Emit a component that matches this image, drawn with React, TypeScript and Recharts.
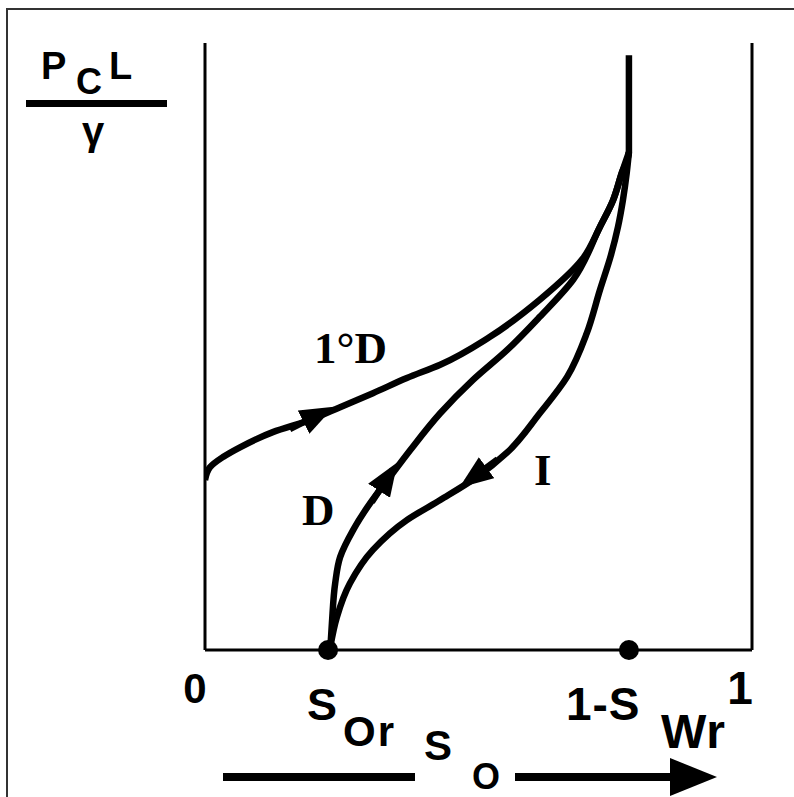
import { LineChart, Line, XAxis, YAxis, ReferenceLine, ReferenceDot } from 'recharts';

// residual saturations (fraction of pore volume)
const sOr = 0.225;
const sWr = 0.225;

// primary drainage 1°D : oil saturation vs dimensionless capillary pressure
const primaryDrainage = [
  { s: 0, p: 28 },
  { s: 0.009, p: 30.1 },
  { s: 0.033, p: 31.8 },
  { s: 0.064, p: 33.4 },
  { s: 0.124, p: 35.9 },
  { s: 0.192, p: 37.9 },
  { s: 0.247, p: 40.0 },
  { s: 0.307, p: 42.3 },
  { s: 0.369, p: 44.8 },
  { s: 0.43, p: 47.0 },
  { s: 0.521, p: 51.6 },
  { s: 0.612, p: 57.7 },
  { s: 0.69, p: 64.4 },
  { s: 0.722, p: 69.7 },
  { s: 0.746, p: 74.1 },
  { s: 0.762, p: 78.6 },
  { s: 0.775, p: 82.0 },
  { s: 0.775, p: 98.0 },
];

// secondary drainage D
const drainage = [
  { s: 0.229, p: 0 },
  { s: 0.232, p: 4.4 },
  { s: 0.238, p: 11.0 },
  { s: 0.247, p: 15.3 },
  { s: 0.271, p: 19.8 },
  { s: 0.302, p: 24.2 },
  { s: 0.338, p: 28.5 },
  { s: 0.375, p: 32.9 },
  { s: 0.43, p: 39.0 },
  { s: 0.49, p: 44.5 },
  { s: 0.552, p: 49.4 },
  { s: 0.612, p: 54.9 },
  { s: 0.673, p: 61.0 },
  { s: 0.722, p: 69.7 },
  { s: 0.746, p: 74.1 },
  { s: 0.762, p: 78.6 },
  { s: 0.775, p: 82.0 },
];

// imbibition I
const imbibition = [
  { s: 0.229, p: 0.5 },
  { s: 0.241, p: 5.4 },
  { s: 0.265, p: 11.0 },
  { s: 0.307, p: 16.5 },
  { s: 0.369, p: 21.4 },
  { s: 0.43, p: 24.7 },
  { s: 0.497, p: 28.5 },
  { s: 0.552, p: 32.5 },
  { s: 0.612, p: 39.0 },
  { s: 0.662, p: 45.0 },
  { s: 0.698, p: 52.2 },
  { s: 0.722, p: 59.3 },
  { s: 0.742, p: 65.0 },
  { s: 0.755, p: 69.7 },
  { s: 0.764, p: 74.1 },
  { s: 0.771, p: 78.6 },
  { s: 0.775, p: 82.0 },
];

// direction arrows: short stretch of each curve, pointing the way it is travelled
const arrowPrimary = [
  { s: 0.155, p: 36.4 },
  { s: 0.221, p: 39.4 },
];
const arrowDrainage = [
  { s: 0.305, p: 24.4 },
  { s: 0.343, p: 29.7 },
];
const arrowImbibition = [
  { s: 0.535, p: 31.4 },
  { s: 0.478, p: 27.6 },
];

const xTicks = [0, sOr, 1 - sWr, 1];
const tickLabels = [
  { main: '0', sub: '' },
  { main: 'S', sub: 'Or' },
  { main: '1-S', sub: 'Wr' },
  { main: '1', sub: '' },
];

const sans = '"Liberation Sans", Arial, sans-serif';
const serif = '"Liberation Serif", "Times New Roman", serif';

function SatTick(props: any) {
  const { x, y, index } = props;
  const lab = tickLabels[index];
  if (!lab) return null;
  if (index === 0) {
    return <text x={x - 10} y={y + 45} textAnchor="middle" fontFamily={sans} fontWeight="bold" fontSize={42} fill="#000">{lab.main}</text>;
  }
  if (index === 3) {
    return <text x={x - 12} y={y + 46} textAnchor="middle" fontFamily={sans} fontWeight="bold" fontSize={46} fill="#000">{lab.main}</text>;
  }
  if (index === 1) {
    return (
      <text fontFamily={sans} fontWeight="bold" fill="#000">
        <tspan x={x - 21} y={y + 62} fontSize={45}>{lab.main}</tspan>
        <tspan x={x + 15} y={y + 88} fontSize={42} letterSpacing={2}>{lab.sub}</tspan>
      </text>
    );
  }
  return (
    <text fontFamily={sans} fontWeight="bold" fill="#000">
      <tspan x={x - 63} y={y + 62} fontSize={46} letterSpacing={1}>{lab.main}</tspan>
      <tspan x={x + 32} y={y + 90} fontSize={48} letterSpacing={1}>{lab.sub}</tspan>
    </text>
  );
}

export default function App() {
  const curve = {
    type: 'monotoneY' as const,
    dataKey: 'p',
    stroke: '#000',
    strokeWidth: 6.5,
    dot: false,
    activeDot: false,
    isAnimationActive: false,
  };
  const arrow = {
    type: 'linear' as const,
    dataKey: 'p',
    stroke: '#000',
    strokeWidth: 6.5,
    dot: false,
    activeDot: false,
    isAnimationActive: false,
    markerEnd: 'url(#arrowHead)',
  };

  return (
    <div style={{ position: 'absolute', left: 0, top: 0, width: 794, height: 797, background: '#fff', overflow: 'hidden' }}>
      <LineChart width={794} height={797} margin={{ top: 43, right: 42, bottom: 47, left: 205 }}>
        <XAxis
          dataKey="s"
          type="number"
          domain={[0, 1]}
          ticks={xTicks}
          tick={<SatTick />}
          tickLine={false}
          axisLine={{ stroke: '#000', strokeWidth: 3 }}
          height={100}
          allowDataOverflow
        />
        <YAxis type="number" domain={[0, 100]} hide allowDataOverflow />
        <ReferenceLine x={0} stroke="#000" strokeWidth={3} />
        <ReferenceLine x={1} stroke="#000" strokeWidth={3} segment={[{ x: 1, y: 0 }, { x: 1, y: 99.5 }]} />
        <Line {...curve} data={primaryDrainage} />
        <Line {...curve} data={drainage} />
        <Line {...curve} data={imbibition} />
        <Line {...arrow} data={arrowPrimary} />
        <Line {...arrow} data={arrowDrainage} />
        <Line {...arrow} data={arrowImbibition} />
        <ReferenceDot x={sOr} y={0} r={10} fill="#000" stroke="none" ifOverflow="visible" />
        <ReferenceDot x={1 - sWr} y={0} r={10} fill="#000" stroke="none" ifOverflow="visible" />
      </LineChart>

      {/* annotations on top of the chart */}
      <svg width={794} height={797} style={{ position: 'absolute', left: 0, top: 0, pointerEvents: 'none' }}>
        <defs>
          <marker id="arrowHead" viewBox="0 0 34 26" refX={25} refY={13} markerWidth={34} markerHeight={26} markerUnits="userSpaceOnUse" orient="auto">
            <path d="M0,0 L34,13 L0,26 Z" fill="#000" />
          </marker>
        </defs>
        <rect x={7} y={9} width={800} height={800} fill="none" stroke="#333" strokeWidth={2} />

        {/* y label: Pc L / gamma */}
        <text fontFamily={sans} fontWeight="bold" fill="#000">
          <tspan x={41} y={79} fontSize={38}>P</tspan>
          <tspan x={76} y={94} fontSize={36}>C</tspan>
          <tspan x={109} y={79} fontSize={38}>L</tspan>
        </text>
        <rect x={26} y={100} width={141} height={7} fill="#000" />
        <text x={93} y={145} textAnchor="middle" fontFamily={sans} fontWeight="bold" fontSize={40} fill="#000">γ</text>

        {/* curve labels */}
        <text x={314} y={363} fontFamily={serif} fontWeight="bold" fontSize={45} fill="#000">1°D</text>
        <text x={302} y={525} fontFamily={serif} fontWeight="bold" fontSize={45} fill="#000">D</text>
        <text x={534} y={485} fontFamily={serif} fontWeight="bold" fontSize={45} fill="#000">I</text>

        {/* axis title S_O with arrow */}
        <rect x={223} y={773} width={192} height={8} fill="#000" />
        <rect x={515} y={773} width={160} height={8} fill="#000" />
        <path d="M670,758 L717,777 L670,796 Z" fill="#000" />
        <text fontFamily={sans} fontWeight="bold" fill="#000">
          <tspan x={424} y={760} fontSize={42}>S</tspan>
          <tspan x={472} y={789} fontSize={36}>O</tspan>
        </text>
      </svg>
    </div>
  );
}
